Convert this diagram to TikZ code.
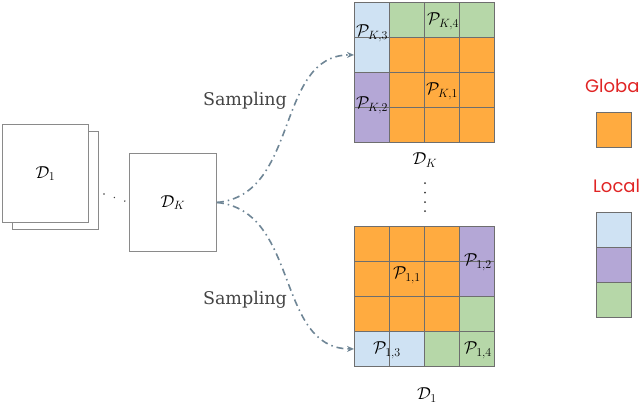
\documentclass[tikz,border=0pt]{standalone}
\usepackage{fontspec}
\newfontfamily\samplefont{DejaVu Serif}
\newfontfamily\legendfont{Poppins}
\usetikzlibrary{arrows.meta}
\definecolor{cor}{HTML}{FFAB40}
\definecolor{clb}{HTML}{CFE2F3}
\definecolor{cpu}{HTML}{B4A7D6}
\definecolor{cgr}{HTML}{B6D7A8}
\definecolor{gline}{HTML}{6E6E6E}
\definecolor{bline}{HTML}{8A8A8A}
\definecolor{flowc}{HTML}{6F8696}
\definecolor{txtg}{HTML}{444444}
\definecolor{legred}{HTML}{E02424}
\begin{document}
\begin{tikzpicture}[x=1pt,y=-1pt,
  cell/.style={draw=gline, line width=0.9pt, minimum size=35pt, inner sep=0pt, anchor=north west},
  sqbox/.style={draw=bline, line width=0.9pt, fill=white, inner sep=0pt, anchor=north west},
  mlab/.style={font=\fontsize{18}{18}\selectfont, inner sep=0pt},
  samp/.style={font=\samplefont\fontsize{17.5}{17.5}\selectfont, text=txtg, inner sep=0pt},
  leg/.style={font=\legendfont\fontsize{18}{18}\selectfont, text=legred, inner sep=0pt, anchor=west},
  flow/.style={draw=flowc, line width=1.6pt, dash pattern=on 7pt off 4pt on 1.5pt off 4pt,
    -{Stealth[length=7pt,width=6pt]}},
  dotln/.style={draw=black!75, line width=1.6pt, line cap=round, dash pattern=on 0pt off 11pt, dash phase=4.7pt}
]
\useasboundingbox (0,0) rectangle (640,405);

% left stack
\node[sqbox, minimum width=86pt, minimum height=98pt] (D1b) at (12,131) {};
\node[sqbox, minimum width=86pt, minimum height=98pt] (D1f) at (2,124) {};
\node[mlab] (D1t) at (D1f.center) {$\mathcal{D}_1$};
\node[sqbox, minimum width=87pt, minimum height=98pt] (DK) at (129,153) {};
\node[mlab] (DKt) at (DK.center) {$\mathcal{D}_K$};
\coordinate (dstart) at (98,192);
\draw[dotln] (dstart) -- (DK.west);

% grid K
\foreach \r/\c/\col in {0/0/clb,1/0/clb,2/0/cpu,3/0/cpu,
  0/1/cgr,0/2/cgr,0/3/cgr,
  1/1/cor,1/2/cor,1/3/cor,2/1/cor,2/2/cor,2/3/cor,3/1/cor,3/2/cor,3/3/cor}
  \node[cell, fill=\col] (K-\r-\c) at (354+35*\c, 2+35*\r) {};
% grid 1
\foreach \r/\c/\col in {0/0/cor,0/1/cor,0/2/cor,1/0/cor,1/1/cor,1/2/cor,2/0/cor,2/1/cor,2/2/cor,
  0/3/cpu,1/3/cpu,2/3/cgr,3/3/cgr,3/2/cgr,3/0/clb,3/1/clb}
  \node[cell, fill=\col] (A-\r-\c) at (354+35*\c, 226+35*\r) {};

% labels in grids
\node[mlab] (PK3) at (372,33) {$\mathcal{P}_{K,3}$};
\node[mlab] (PK4) at (443,21) {$\mathcal{P}_{K,4}$};
\node[mlab] (PK1) at (442,91) {$\mathcal{P}_{K,1}$};
\node[mlab] (PK2) at (372,105) {$\mathcal{P}_{K,2}$};
\node[mlab] (P11) at (407,275) {$\mathcal{P}_{1,1}$};
\node[mlab] (P12) at (478,262) {$\mathcal{P}_{1,2}$};
\node[mlab] (P13) at (387,350) {$\mathcal{P}_{1,3}$};
\node[mlab] (P14) at (478,350) {$\mathcal{P}_{1,4}$};
\node[mlab] (DKl) at (425,160) {$\mathcal{D}_K$};
\node[mlab] (D1l) at (427,395) {$\mathcal{D}_1$};
\foreach \y in {183,192.5,202,211} \fill[black!80] (425,\y) circle (1pt);

% sampling arrows
\draw[flow] (DK.east) .. controls (300,195) and (275,54.5) .. (K-1-0.west);
\draw[flow] (DK.east) .. controls (300,211) and (275,348.5) .. (A-3-0.west);
\node[samp] (s1) at (245,101) {Sampling};
\node[samp] (s2) at (245,300) {Sampling};

% legend
\node[leg] (glob) at (585,86) {Global};
\node[cell, fill=cor] (lg) at (596,112) {};
\node[leg] (loc) at (593,186) {Local};
\node[cell, fill=clb] (l1) at (596,212) {};
\node[cell, fill=cpu] (l2) at (596,247) {};
\node[cell, fill=cgr] (l3) at (596,282) {};
\end{tikzpicture}
\end{document}
